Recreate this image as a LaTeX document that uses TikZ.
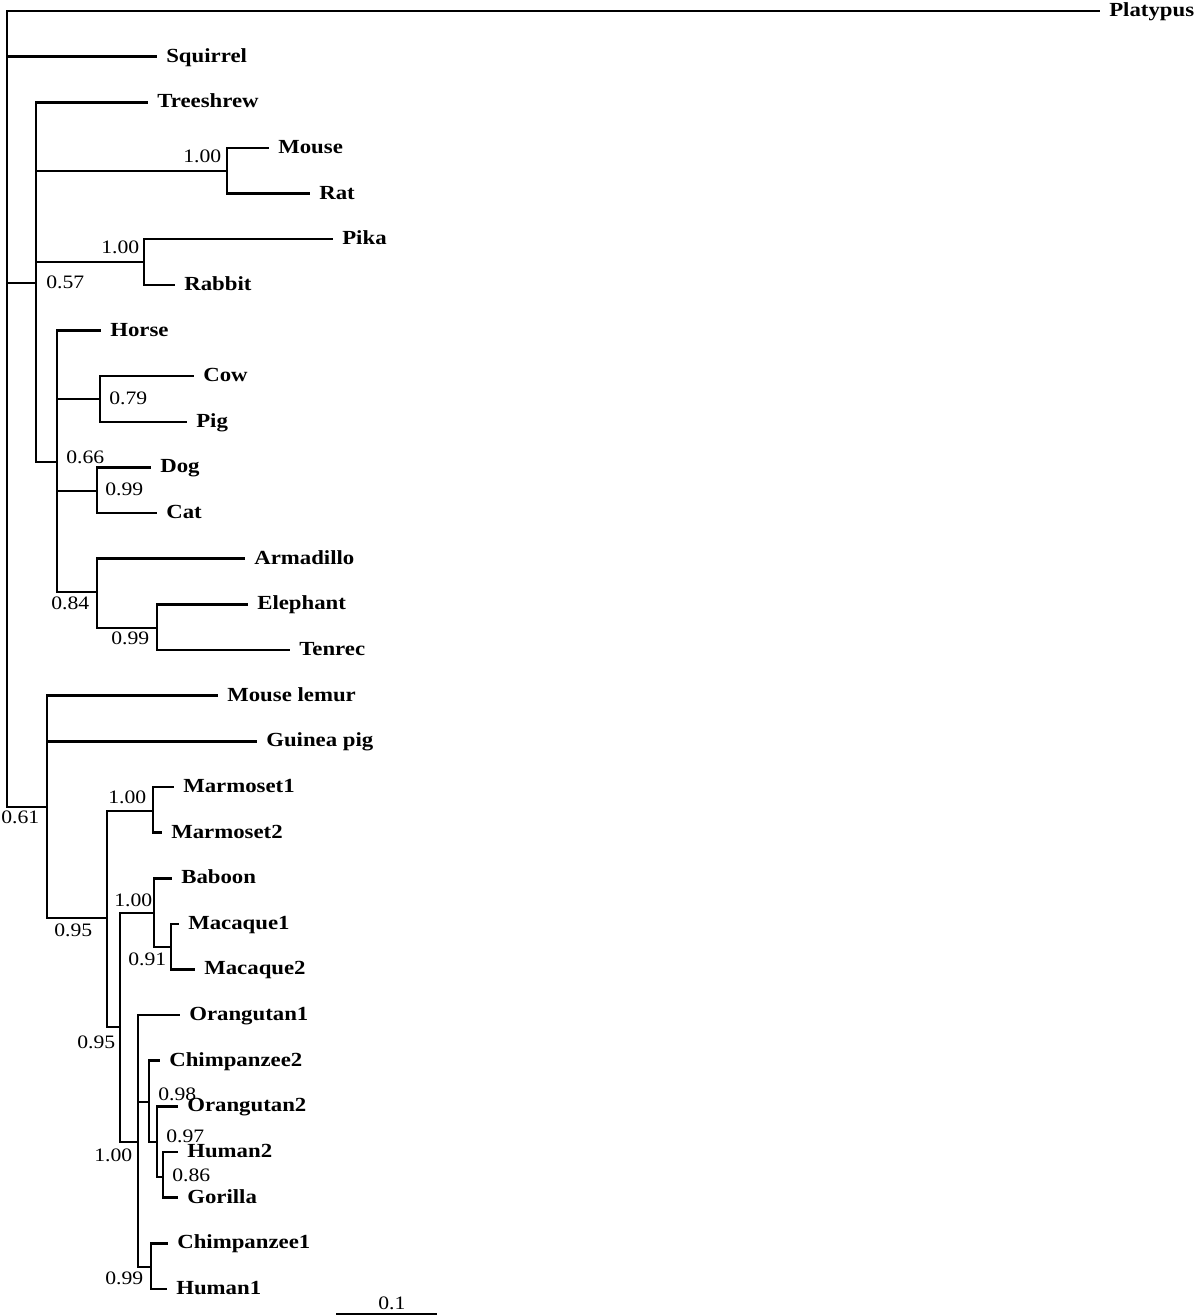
\documentclass[tikz,border=0pt]{standalone}
\usepackage{fontspec}
\setmainfont[FakeStretch=1.14]{Liberation Serif}
\begin{document}
\begin{tikzpicture}[x=0.5pt,y=-0.5pt,line width=1.3pt,
  leaf/.style={anchor=west,inner xsep=4pt,inner ysep=0pt,text height=7.5pt,text depth=2pt,font=\fontsize{10pt}{12pt}\selectfont\bfseries},
  supp/.style={anchor=base west,inner sep=0pt,font=\fontsize{9.5pt}{11pt}\selectfont}]
\fill[white] (0,0) rectangle (1200,1316);
\useasboundingbox (0,0) rectangle (1200,1316);
% internal nodes
\coordinate (root) at (7,409);
\coordinate (A) at (36,283);
\coordinate (MR) at (227,171);
\coordinate (PR) at (144,262);
\coordinate (H) at (57,462);
\coordinate (CP) at (100,399);
\coordinate (DC) at (97,491);
\coordinate (X) at (97,592);
\coordinate (ET) at (157,628);
\coordinate (B) at (47,807);
\coordinate (C) at (107,918);
\coordinate (M) at (153,811);
\coordinate (D) at (120,1027);
\coordinate (BM) at (154,913);
\coordinate (MM) at (171,947);
\coordinate (E) at (138,1142);
\coordinate (F) at (149,1102);
\coordinate (I) at (157,1142);
\coordinate (J) at (163,1177);
\coordinate (G) at (151,1267);
% leaves
\node[leaf] (platypus) at (1100,11) {Platypus};
\node[leaf] (squirrel) at (157,56.6) {Squirrel};
\node[leaf] (treeshrew) at (148,102.3) {Treeshrew};
\node[leaf] (mouse) at (269,147.9) {Mouse};
\node[leaf] (rat) at (310,193.6) {Rat};
\node[leaf] (pika) at (333,239.2) {Pika};
\node[leaf] (rabbit) at (175,284.8) {Rabbit};
\node[leaf] (horse) at (101,330.5) {Horse};
\node[leaf] (cow) at (194,376.1) {Cow};
\node[leaf] (pig) at (187,421.8) {Pig};
\node[leaf] (dog) at (151,467.4) {Dog};
\node[leaf] (cat) at (157,513) {Cat};
\node[leaf] (armadillo) at (245,558.7) {Armadillo};
\node[leaf] (elephant) at (248,604.3) {Elephant};
\node[leaf] (tenrec) at (290,650) {Tenrec};
\node[leaf] (mlemur) at (218,695.6) {Mouse lemur};
\node[leaf] (gpig) at (257,741.2) {Guinea pig};
\node[leaf] (marm1) at (174,786.9) {Marmoset1};
\node[leaf] (marm2) at (162,832.5) {Marmoset2};
\node[leaf] (baboon) at (172,878.2) {Baboon};
\node[leaf] (mac1) at (179,923.8) {Macaque1};
\node[leaf] (mac2) at (195,969.4) {Macaque2};
\node[leaf] (orang1) at (180,1015.1) {Orangutan1};
\node[leaf] (chimp2) at (160,1060.7) {Chimpanzee2};
\node[leaf] (orang2) at (178,1106.4) {Orangutan2};
\node[leaf] (human2) at (178,1152) {Human2};
\node[leaf] (gorilla) at (178,1197.6) {Gorilla};
\node[leaf] (chimp1) at (168,1243.3) {Chimpanzee1};
\node[leaf] (human1) at (167,1288.9) {Human1};
% branches
\draw (root) |- (platypus.west);
\draw (root) |- (squirrel.west);
\draw (root) |- (A);
\draw (root) |- (B);
\draw (A) |- (treeshrew.west);
\draw (A) |- (MR);
\draw (A) |- (PR);
\draw (A) |- (H);
\draw (MR) |- (mouse.west);
\draw (MR) |- (rat.west);
\draw (PR) |- (pika.west);
\draw (PR) |- (rabbit.west);
\draw (H) |- (horse.west);
\draw (H) |- (CP);
\draw (H) |- (DC);
\draw (H) |- (X);
\draw (CP) |- (cow.west);
\draw (CP) |- (pig.west);
\draw (DC) |- (dog.west);
\draw (DC) |- (cat.west);
\draw (X) |- (armadillo.west);
\draw (X) |- (ET);
\draw (ET) |- (elephant.west);
\draw (ET) |- (tenrec.west);
\draw (B) |- (mlemur.west);
\draw (B) |- (gpig.west);
\draw (B) |- (C);
\draw (C) |- (M);
\draw (C) |- (D);
\draw (M) |- (marm1.west);
\draw (M) |- (marm2.west);
\draw (D) |- (BM);
\draw (D) |- (E);
\draw (BM) |- (baboon.west);
\draw (BM) |- (MM);
\draw (MM) |- (mac1.west);
\draw (MM) |- (mac2.west);
\draw (E) |- (orang1.west);
\draw (E) |- (F);
\draw (E) |- (G);
\draw (F) |- (chimp2.west);
\draw (F) |- (I);
\draw (I) |- (orang2.west);
\draw (I) |- (J);
\draw (J) |- (human2.west);
\draw (J) |- (gorilla.west);
\draw (G) |- (chimp1.west);
\draw (G) |- (human1.west);
% support values
\node[supp] (sMR) at (182,163) {1.00};
\node[supp] (sPR) at (100,254) {1.00};
\node[supp] (sA) at (45,288) {0.57};
\node[supp] (sCP) at (108,404) {0.79};
\node[supp] (sH) at (65,463) {0.66};
\node[supp] (sDC) at (104,495) {0.99};
\node[supp] (sX) at (50,609) {0.84};
\node[supp] (sET) at (110,644) {0.99};
\node[supp] (sB) at (0,823) {0.61};
\node[supp] (sC) at (53,936) {0.95};
\node[supp] (sM) at (107,803) {1.00};
\node[supp] (sBM) at (113,906) {1.00};
\node[supp] (sMM) at (127,965) {0.91};
\node[supp] (sD) at (76,1048) {0.95};
\node[supp] (sE) at (93,1161) {1.00};
\node[supp] (sF) at (157,1100) {0.98};
\node[supp] (sI) at (165,1142) {0.97};
\node[supp] (sJ) at (171,1181) {0.86};
\node[supp] (sG) at (104,1284) {0.99};
% scale bar
\coordinate (sb1) at (336,1314);
\coordinate (sb2) at (437,1314);
\draw (sb1) -- (sb2);
\node[supp] (sbl) at (377,1309) {0.1};
\end{tikzpicture}
\end{document}
